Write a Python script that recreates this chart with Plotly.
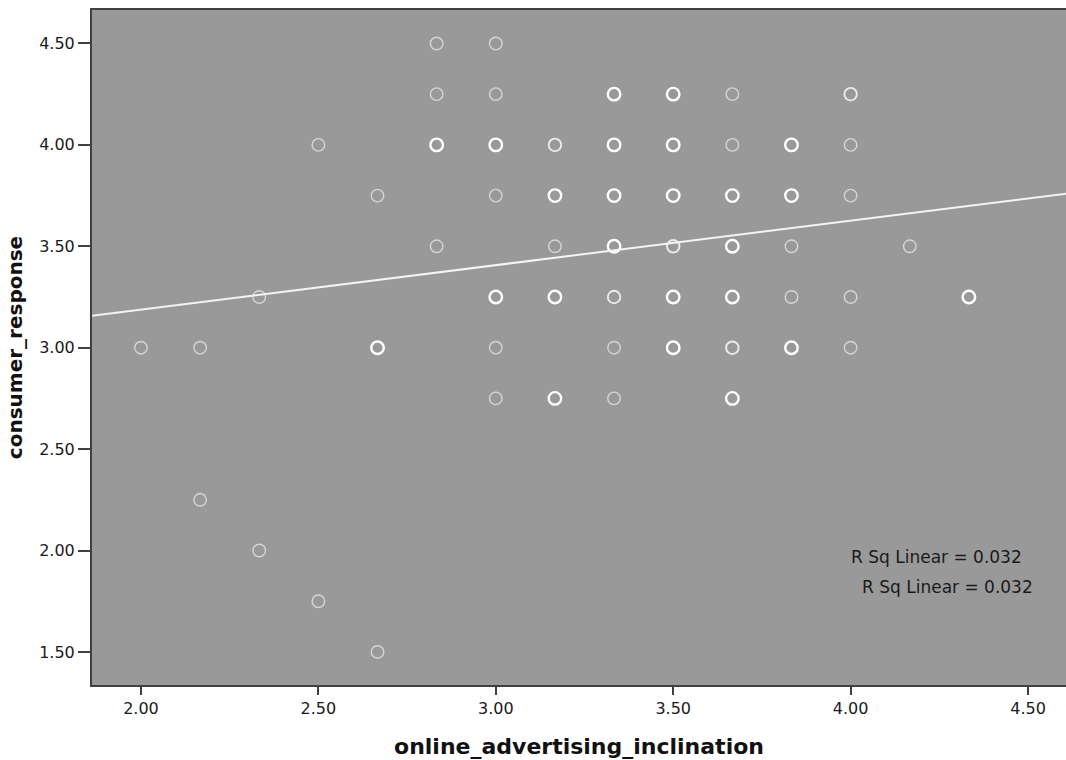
import plotly.graph_objects as go

# ---- data ----
x_vals = [2.0, 2.1667, 2.1667, 2.3333, 2.3333, 2.5, 2.5,
          2.6667, 2.6667, 2.6667,
          2.8333, 2.8333, 2.8333, 2.8333,
          3.0, 3.0, 3.0, 3.0, 3.0, 3.0, 3.0,
          3.1667, 3.1667, 3.1667, 3.1667, 3.1667,
          3.3333, 3.3333, 3.3333, 3.3333, 3.3333, 3.3333, 3.3333,
          3.5, 3.5, 3.5, 3.5, 3.5, 3.5,
          3.6667, 3.6667, 3.6667, 3.6667, 3.6667, 3.6667, 3.6667,
          3.8333, 3.8333, 3.8333, 3.8333, 3.8333,
          4.0, 4.0, 4.0, 4.0, 4.0,
          4.1667, 4.3333]
y_vals = [3.0, 3.0, 2.25, 3.25, 2.0, 4.0, 1.75,
          3.75, 3.0, 1.5,
          4.5, 4.25, 4.0, 3.5,
          4.5, 4.25, 4.0, 3.75, 3.25, 3.0, 2.75,
          4.0, 3.75, 3.5, 3.25, 2.75,
          4.25, 4.0, 3.75, 3.5, 3.25, 3.0, 2.75,
          4.25, 4.0, 3.75, 3.5, 3.25, 3.0,
          4.25, 4.0, 3.75, 3.5, 3.25, 3.0, 2.75,
          4.0, 3.75, 3.5, 3.25, 3.0,
          4.25, 4.0, 3.75, 3.25, 3.0,
          3.5, 3.25]
# overlap level (1 = single case, 2 = a few, 3 = many overlapping cases)
overlap = [1, 1, 1, 1, 1, 1, 1,
           1, 3, 1,
           1, 1, 3, 1,
           1, 1, 3, 1, 3, 1, 1,
           2, 3, 1, 3, 3,
           3, 3, 3, 3, 2, 1, 1,
           3, 3, 3, 2, 3, 3,
           1, 1, 3, 3, 3, 2, 3,
           3, 3, 1, 1, 3,
           2, 1, 1, 1, 1,
           1, 3]

fit_intercept = 2.750
fit_slope = 0.219
r_sq_text = "R Sq Linear = 0.032"

x_ticks = [2.0, 2.5, 3.0, 3.5, 4.0, 4.5]
y_ticks = [1.5, 2.0, 2.5, 3.0, 3.5, 4.0, 4.5]
x_range = [1.862, 4.607]
y_range = [1.337, 4.665]

# ---- styling ----
line_w = {1: 1.4, 2: 1.9, 3: 2.4}
line_c = {1: "#d6d6d6", 2: "#ebebeb", 3: "#ffffff"}

fig = go.Figure()
fig.add_trace(go.Scatter(
    x=x_vals, y=y_vals, mode="markers",
    marker=dict(symbol="circle-open", size=12.5,
                color=[line_c[o] for o in overlap],
                line=dict(width=[line_w[o] for o in overlap],
                          color=[line_c[o] for o in overlap])),
    showlegend=False, hoverinfo="x+y"))

fig.add_trace(go.Scatter(
    x=x_range, y=[fit_intercept + fit_slope * v for v in x_range],
    mode="lines", line=dict(color="#f4f4f4", width=2),
    showlegend=False, hoverinfo="skip"))

font_family = "DejaVu Sans, Verdana, sans-serif"

fig.add_annotation(x=4.49, y=1.97, xref="x", yref="y", text=r_sq_text,
                   showarrow=False, xanchor="right", yanchor="middle",
                   font=dict(family=font_family, size=17, color="#1a1a1a"))
fig.add_annotation(x=4.52, y=1.818, xref="x", yref="y", text=r_sq_text,
                   showarrow=False, xanchor="right", yanchor="middle",
                   font=dict(family=font_family, size=17, color="#1a1a1a"))

fig.update_layout(
    width=1066, height=760,
    margin=dict(l=92, r=0, t=10, b=75),
    paper_bgcolor="white", plot_bgcolor="#999999",
    font=dict(family=font_family, size=16, color="#1a1a1a"),
    xaxis=dict(range=x_range, tickvals=x_ticks,
               ticktext=[f"{v:.2f}" for v in x_ticks],
               showgrid=False, zeroline=False,
               showline=True, mirror=True, linecolor="#404040", linewidth=2,
               ticks="outside", ticklen=8, tickwidth=2, tickcolor="#404040",
               tickfont=dict(size=16, color="#1a1a1a"),
               title=dict(text="<b>online_advertising_inclination</b>",
                          font=dict(size=22, color="#111111"), standoff=21)),
    yaxis=dict(range=y_range, tickvals=y_ticks,
               ticktext=[f"{v:.2f}" for v in y_ticks],
               showgrid=False, zeroline=False,
               showline=True, mirror=False, linecolor="#404040", linewidth=2,
               ticks="outside", ticklen=12, tickwidth=2, tickcolor="#404040",
               tickfont=dict(size=16, color="#1a1a1a"),
               title=dict(text="<b>consumer_response</b>",
                          font=dict(size=20, color="#111111"), standoff=11)),
)

fig.write_html("out.html",
               config={"displayModeBar": False},
               post_script="document.body.style.margin='0';"
                           "document.body.style.overflow='hidden';")
